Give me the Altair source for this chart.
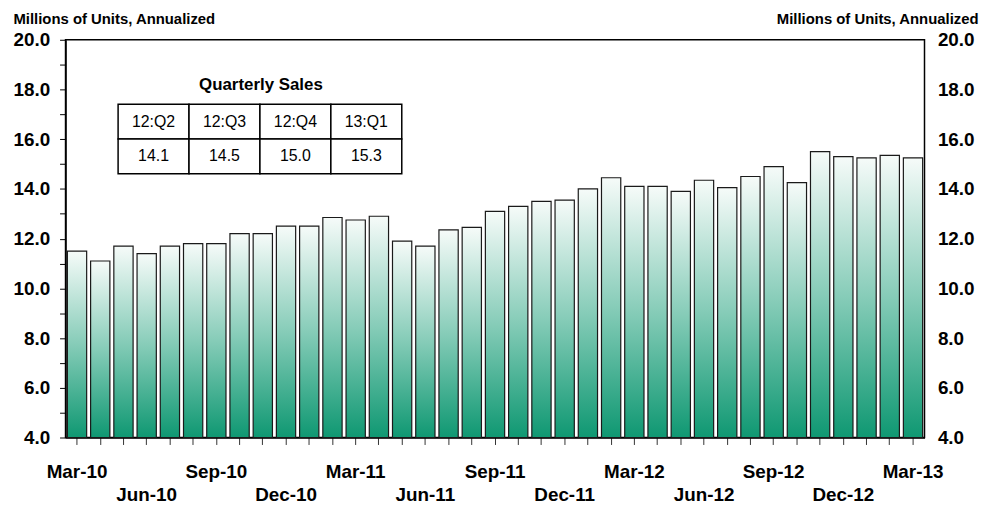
import altair as alt
import pandas as pd

# ---- data ----
months = list(pd.date_range("2010-03-01", periods=37, freq="MS").strftime("%b-%y"))
sales = [11.5, 11.1, 11.7, 11.4, 11.7, 11.8, 11.8, 12.2, 12.2, 12.5, 12.5, 12.85,
         12.75, 12.9, 11.9, 11.7, 12.35, 12.45, 13.1, 13.3, 13.5, 13.55, 14.0, 14.45,
         14.1, 14.1, 13.9, 14.35, 14.05, 14.5, 14.9, 14.25, 15.5, 15.3, 15.25, 15.35,
         15.25]
quarters = ["12:Q2", "12:Q3", "12:Q4", "13:Q1"]
q_values = ["14.1", "14.5", "15.0", "15.3"]
y_title = "Millions of Units, Annualized"
table_title = "Quarterly Sales"

FONT = "Liberation Sans"

df = pd.DataFrame({"month": months, "sales": sales})

label_expr = (
    "indexof(['Mar','Sep'], slice(datum.value,0,3)) >= 0 ? datum.value : "
    "(indexof(['Jun','Dec'], slice(datum.value,0,3)) >= 0 ? ['', datum.value] : '')"
)

yscale = alt.Scale(domain=[4, 20], nice=False, zero=False)

gradient = alt.Gradient(
    gradient="linear",
    stops=[alt.GradientStop(color="#f6fbf9", offset=0),
           alt.GradientStop(color="#86ccb8", offset=0.5),
           alt.GradientStop(color="#0f9872", offset=1)],
    x1=0, x2=0, y1=0, y2=1,
)

bars = alt.Chart(df).mark_bar(fill=gradient, stroke="#1a1a1a", strokeWidth=1.2).encode(
    x=alt.X("month:O", sort=months,
            scale=alt.Scale(paddingInner=0.17, paddingOuter=0.08),
            axis=alt.Axis(title=None, labelAngle=0, labelExpr=label_expr,
                          labelOverlap=False, labelBound=False, tickSize=7,
                          labelPadding=18, labelLineHeight=23, tickColor="#333",
                          domainColor="black", domainWidth=1.5)),
    y=alt.Y("sales:Q", scale=yscale,
            axis=alt.Axis(orient="left", values=list(range(4, 21)),
                          labelExpr="datum.value % 2 == 0 ? format(datum.value, '.1f') : ''",
                          title=y_title, titleAngle=0, titleAlign="left",
                          titleBaseline="alphabetic", titleX=-53, titleY=-16,
                          tickSize=6, labelPadding=10, domainColor="black",
                          domainWidth=1.5)),
    y2=alt.datum(4),
)

right_axis = alt.Chart(df).mark_bar(opacity=0).encode(
    x=alt.X("month:O", sort=months, axis=None),
    y=alt.Y("sales:Q", scale=yscale,
            axis=alt.Axis(orient="right", values=list(range(4, 21, 2)), format=".1f",
                          ticks=False, tickSize=0, domain=False, labelPadding=13,
                          title=y_title, titleAngle=0, titleAlign="right",
                          titleBaseline="alphabetic", titleX=54, titleY=-16)),
)

cells = pd.DataFrame({
    "col": list(range(len(quarters))) * 2,
    "row": [0] * len(quarters) + [1] * len(q_values),
    "label": quarters + q_values,
})
cells["col1"] = cells["col"] + 1
cells["row1"] = cells["row"] + 1
cells["xc"] = cells["col"] + 0.5
cells["yc"] = cells["row"] + 0.5

tx = alt.Scale(domain=[0, 4], range=[53, 339])
ty = alt.Scale(domain=[0, 2], range=[65, 135])

table_rect = alt.Chart(cells).mark_rect(fill="white", stroke="black", strokeWidth=1.5).encode(
    x=alt.X("col:Q", scale=tx, axis=None), x2="col1",
    y=alt.Y("row:Q", scale=ty, axis=None), y2="row1",
)
table_text = alt.Chart(cells).mark_text(font=FONT, fontSize=16, baseline="middle",
                                        color="black").encode(
    x=alt.X("xc:Q", scale=tx, axis=None),
    y=alt.Y("yc:Q", scale=ty, axis=None),
    text="label:N",
)
table_head = alt.Chart(pd.DataFrame({"t": [table_title]})).mark_text(
    font=FONT, fontSize=17, fontWeight="bold", baseline="middle", color="black"
).encode(x=alt.value(197), y=alt.value(46), text="t:N")

chart = alt.layer(bars, right_axis, table_rect, table_text, table_head).resolve_scale(
    x="independent", y="independent"
).properties(
    width=866, height=401,
    autosize=alt.AutoSizeParams(type="none"),
    padding={"left": 58, "top": 30, "right": 62, "bottom": 66},
).configure_view(
    stroke="black", strokeWidth=1.5
).configure_axis(
    labelFont=FONT, labelFontWeight="bold", labelFontSize=19, labelColor="black",
    titleFont=FONT, titleFontSize=15, titleFontWeight="bold", titleColor="black",
    grid=False, tickColor="black",
)

chart.save("out.html", embed_options={"renderer": "svg", "actions": False})
